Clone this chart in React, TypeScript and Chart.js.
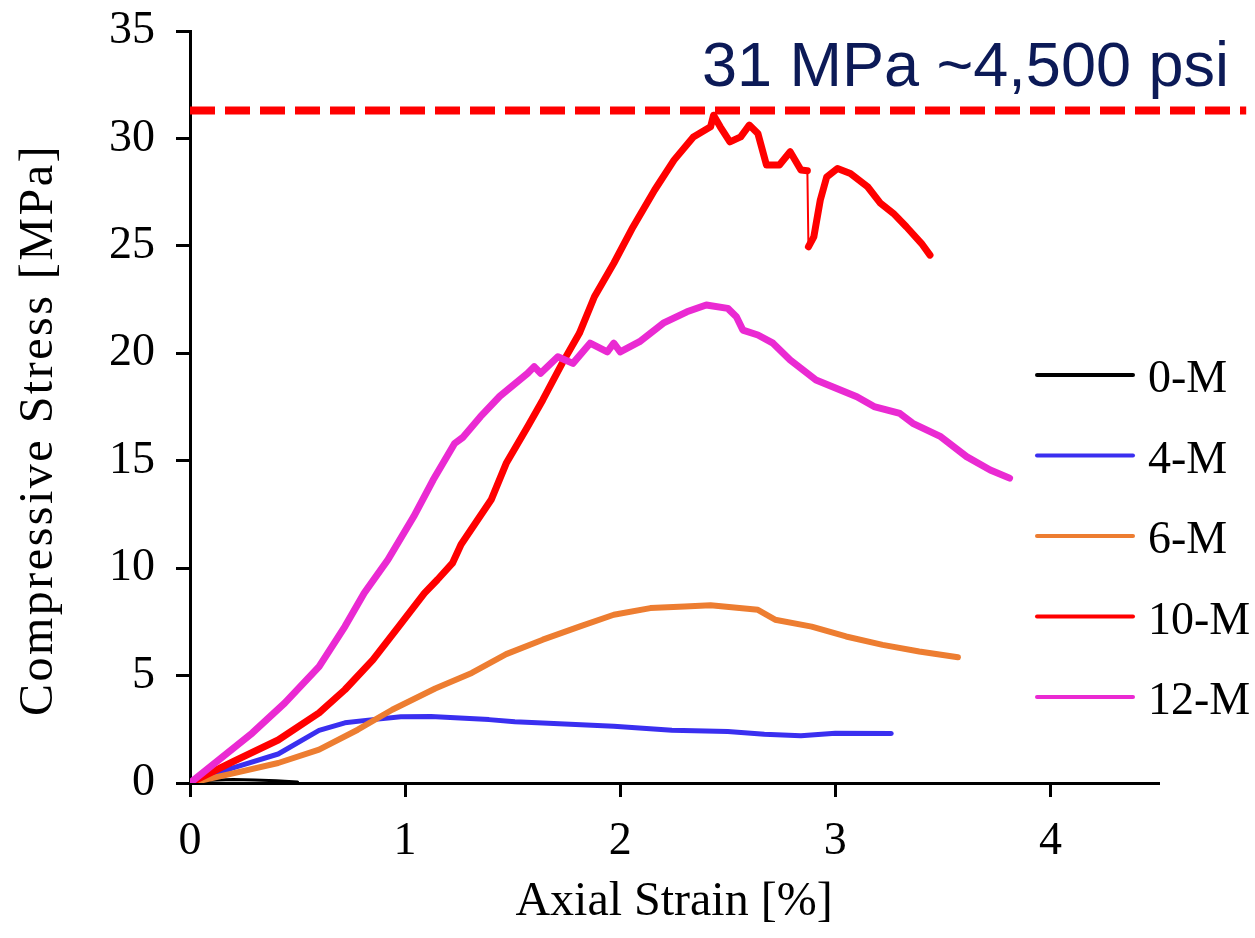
import React, { useEffect, useRef } from 'react';
import { Chart, registerables } from 'chart.js';

Chart.register(...registerables);

// ---------- data ----------
const seriesLabels = ['0-M', '4-M', '6-M', '10-M', '12-M'];
const seriesColors = ['#000000', '#3a2ff0', '#ed7d31', '#ff0000', '#ea2ad2'];

const strain0M = [0, 0.05, 0.1, 0.2, 0.3, 0.4, 0.5];
const stress0M = [0, 0.08, 0.13, 0.16, 0.14, 0.1, 0.05];

const strain4M = [0, 0.2, 0.41, 0.6, 0.72, 0.85, 0.98, 1.12, 1.39, 1.51, 1.64, 1.97, 2.24, 2.5, 2.67, 2.84, 3.0, 3.26];
const stress4M = [0, 0.7, 1.35, 2.45, 2.8, 2.95, 3.08, 3.1, 2.95, 2.85, 2.79, 2.64, 2.45, 2.4, 2.27, 2.2, 2.32, 2.3];

const strain6M = [0, 0.2, 0.41, 0.6, 0.78, 0.94, 1.14, 1.31, 1.47, 1.64, 1.81, 1.97, 2.14, 2.3, 2.42, 2.64, 2.72, 2.89, 3.05, 3.22, 3.39, 3.57];
const stress6M = [0, 0.45, 0.93, 1.55, 2.48, 3.41, 4.4, 5.12, 6.0, 6.67, 7.28, 7.83, 8.14, 8.21, 8.27, 8.06, 7.6, 7.28, 6.82, 6.43, 6.12, 5.85];

const strain10M = [0, 0.2, 0.41, 0.6, 0.72, 0.85, 0.97, 1.09, 1.15, 1.22, 1.26, 1.4, 1.47, 1.57, 1.64, 1.73, 1.81, 1.88, 1.97, 2.06, 2.16, 2.25, 2.34, 2.42, 2.434, 2.465, 2.51, 2.56, 2.6, 2.64, 2.68, 2.74, 2.79, 2.84, 2.87, 2.875, 2.9, 2.93, 2.96, 3.01, 3.07, 3.15, 3.21, 3.27, 3.33, 3.4, 3.44];
const stress10M = [0, 1.0, 2.0, 3.26, 4.34, 5.73, 7.28, 8.84, 9.46, 10.23, 11.1, 13.18, 14.88, 16.59, 17.83, 19.53, 20.93, 22.63, 24.19, 25.89, 27.6, 28.99, 30.07, 30.54, 31.08, 30.54, 29.84, 30.07, 30.62, 30.23, 28.76, 28.76, 29.38, 28.53, 28.5, 24.96, 25.42, 27.13, 28.21, 28.6, 28.37, 27.75, 26.98, 26.51, 25.89, 25.12, 24.57];

const strain12M = [0, 0.29, 0.44, 0.6, 0.72, 0.81, 0.92, 1.04, 1.13, 1.23, 1.27, 1.35, 1.44, 1.57, 1.6, 1.63, 1.71, 1.78, 1.86, 1.94, 1.97, 2.0, 2.09, 2.2, 2.31, 2.4, 2.5, 2.54, 2.57, 2.64, 2.71, 2.79, 2.91, 3.1, 3.18, 3.3, 3.36, 3.49, 3.61, 3.72, 3.81];
const stress12M = [0, 2.33, 3.72, 5.42, 7.28, 8.84, 10.39, 12.4, 14.1, 15.8, 16.1, 17.05, 18.0, 19.07, 19.38, 19.07, 19.84, 19.53, 20.47, 20.07, 20.47, 20.07, 20.54, 21.4, 21.93, 22.25, 22.09, 21.7, 21.08, 20.85, 20.47, 19.69, 18.76, 17.98, 17.52, 17.2, 16.74, 16.12, 15.19, 14.57, 14.19];

const refStress = 31.3;
const refStrain = [0, 4.91];
const refLabel = '31 MPa ~4,500 psi';

const xTicks = [0, 1, 2, 3, 4];
const yTicks = [0, 5, 10, 15, 20, 25, 30, 35];
const xTitle = 'Axial Strain [%]';
const yTitle = 'Compressive Stress [MPa]';

const seriesStrains = [strain0M, strain4M, strain6M, strain10M, strain12M];
const seriesStresses = [stress0M, stress4M, stress6M, stress10M, stress12M];
const seriesWidths = [3, 5, 6, 7, 7];

const SERIF = '"Liberation Serif", "Times New Roman", serif';
const SANS = '"Liberation Sans", Arial, sans-serif';

const toPoints = (xs: number[], ys: number[]) => xs.map((x, i) => ({ x, y: ys[i] }));

const overlayPlugin = {
  id: 'overlay',
  afterLayout(chart: any) {
    const s = chart.scales.y;
    if (s && !s.__wrapped) {
      const orig = s.drawTitle.bind(s);
      s.drawTitle = function (...args: any[]) {
        const ctx = this.ctx;
        ctx.save();
        ctx.translate(3, 23);
        ctx.letterSpacing = '2.5px';
        orig(...args);
        ctx.restore();
      };
      s.__wrapped = true;
    }
  },
  afterDraw(chart: any) {
    const { ctx, chartArea, scales } = chart;
    ctx.save();
    // annotation text
    const yRef = scales.y.getPixelForValue(refStress);
    ctx.font = `63px ${SANS}`;
    ctx.fillStyle = '#0c1a57';
    ctx.textAlign = 'right';
    ctx.textBaseline = 'alphabetic';
    ctx.fillText(refLabel, chartArea.right + 71, yRef - 24);
    // legend
    const lx0 = chartArea.right - 121;
    const lx1 = chartArea.right - 25;
    const tx = chartArea.right - 10;
    ctx.font = `46px ${SERIF}`;
    ctx.textAlign = 'left';
    seriesLabels.forEach((lab, i) => {
      const y = chartArea.top + 344 + i * 80.5;
      ctx.strokeStyle = seriesColors[i];
      ctx.lineWidth = 4;
      ctx.lineCap = 'round';
      ctx.beginPath();
      ctx.moveTo(lx0, y);
      ctx.lineTo(lx1, y);
      ctx.stroke();
      ctx.fillStyle = '#000';
      ctx.fillText(lab, tx, y + 17);
    });
    ctx.restore();
  },
};

export default function App() {
  const ref = useRef<HTMLCanvasElement>(null);
  useEffect(() => {
    if (!ref.current) return;
    const datasets: any[] = seriesLabels.map((lab, i) => ({
      label: lab,
      data: toPoints(seriesStrains[i], seriesStresses[i]),
      borderColor: seriesColors[i],
      backgroundColor: seriesColors[i],
      borderWidth: seriesWidths[i],
      pointRadius: 0,
      tension: 0,
      fill: false,
      borderJoinStyle: 'round',
      borderCapStyle: 'round',
      order: seriesLabels.length - i,
      segment: {
        borderWidth: (c: any) => (c.p0.parsed.y - c.p1.parsed.y > 2 ? 2 : undefined),
      },
    }));
    datasets.push({
      label: 'ref',
      data: refStrain.map((x) => ({ x, y: refStress })),
      borderColor: '#ff0000',
      borderWidth: 8,
      borderDash: [25, 10],
      borderCapStyle: 'butt',
      pointRadius: 0,
      fill: false,
      clip: false,
      order: -1,
    });

    const chart = new Chart(ref.current, {
      type: 'line',
      data: { datasets },
      plugins: [overlayPlugin],
      options: {
        animation: false,
        responsive: false,
        events: [],
        layout: { padding: { top: 31, right: 97, left: 0, bottom: 0 } },
        plugins: { legend: { display: false }, tooltip: { enabled: false }, title: { display: false } },
        scales: {
          x: {
            type: 'linear',
            min: 0,
            max: 4.5,
            afterFit: (s: any) => { s.height = 155; s.paddingLeft = 0; s.paddingRight = 0; },
            afterBuildTicks: (s: any) => { s.ticks = xTicks.map((v) => ({ value: v })); },
            border: { display: true, color: '#000', width: 3 },
            grid: { drawOnChartArea: false, drawTicks: true, tickLength: 14, lineWidth: 3, color: '#000' },
            ticks: { color: '#000', font: { family: SERIF, size: 46 }, padding: 17, maxRotation: 0, autoSkip: false },
            title: { display: true, text: xTitle, color: '#000', font: { family: SERIF, size: 48 }, padding: { top: 0, bottom: 7 } },
          },
          y: {
            type: 'linear',
            min: 0,
            max: 35,
            afterFit: (s: any) => { s.width = 190; s.paddingTop = 0; s.paddingBottom = 0; },
            afterBuildTicks: (s: any) => { s.ticks = yTicks.map((v) => ({ value: v })); },
            border: { display: true, color: '#000', width: 3 },
            grid: { drawOnChartArea: false, drawTicks: true, tickLength: 14, lineWidth: 3, color: '#000' },
            ticks: { color: '#000', font: { family: SERIF, size: 46 }, padding: 21, autoSkip: false },
            title: { display: true, text: yTitle, color: '#000', font: { family: SERIF, size: 48 }, padding: { top: 8, bottom: 0 } },
          },
        },
      } as any,
    });
    return () => chart.destroy();
  }, []);

  return (
    <div style={{ position: 'fixed', left: 0, top: 0, width: 1255, height: 938, background: '#fff' }}>
      <canvas ref={ref} width={1255} height={938} style={{ display: 'block' }} />
    </div>
  );
}
